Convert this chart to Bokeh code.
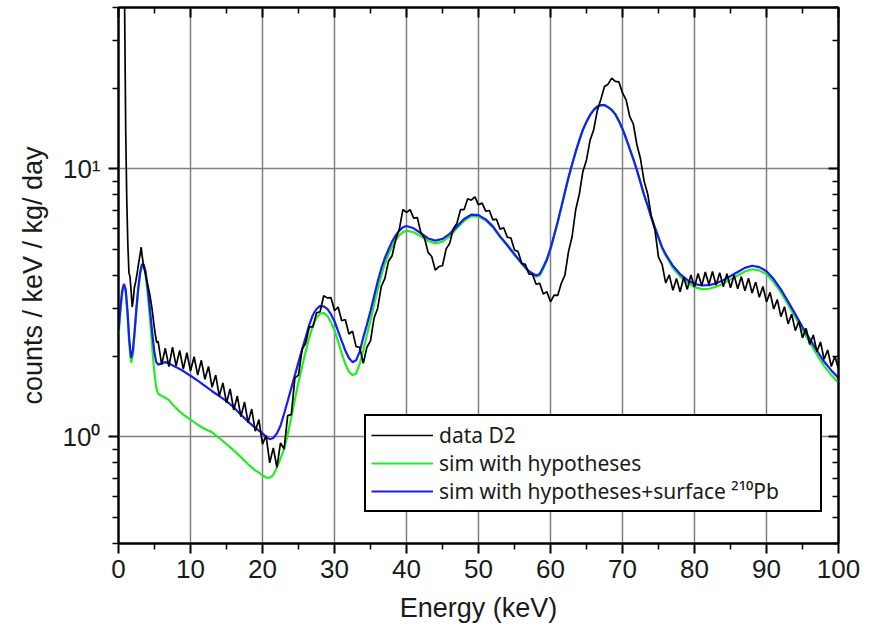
import numpy as np
from bokeh.plotting import figure
from bokeh.models import (FixedTicker, LinearAxis, LogAxis, Legend, LegendItem,
                          CustomJSTickFormatter)
from bokeh.embed import file_html
from bokeh.resources import INLINE

FONT = "Liberation Sans"

# ---------------- data ----------------
# measured spectrum "data D2": low-energy part (irregular energies)
data_energy_low = [0.65, 0.85, 1.0, 1.15, 1.3, 1.45, 1.6, 1.75, 1.9, 2.05, 2.2, 2.4,
                   2.6, 2.8, 3.0, 3.15, 3.3, 3.5, 3.7, 3.9, 4.1, 4.3, 4.5, 4.7,
                   4.9, 5.1, 5.3]
data_counts_low = [120, 40, 14, 7.6, 5.2, 4.1, 3.95, 3.5, 3.05, 3.25, 3.6, 3.8,
                   4.1, 4.45, 4.8, 5.1, 4.7, 4.3, 4.1, 3.85, 3.65, 3.45, 3.2, 2.95,
                   2.65, 2.42, 2.25]
# measured spectrum, 5.5 .. 100 keV every 0.5 keV
data_energy_high = np.arange(5.5, 100.001, 0.5)
data_counts_high = [
    2.27, 1.86, 2.14, 1.83, 2.16, 1.84, 2.10, 1.79, 2.06, 1.76,
    1.99, 1.70, 1.93, 1.64, 1.83, 1.53, 1.70, 1.42, 1.59, 1.34,
    1.51, 1.26, 1.42, 1.19, 1.35, 1.13, 1.27, 1.05, 1.16, 0.94,
    1.01, 0.80, 0.91, 0.77, 0.95, 0.90, 1.20, 1.21, 1.66, 1.70,
    2.12, 2.24, 2.58, 2.57, 2.90, 2.93, 3.36, 3.30, 3.31, 2.96,
    3.05, 2.71, 2.74, 2.42, 2.48, 2.17, 2.16, 1.88, 2.16, 2.28,
    2.78, 3.02, 3.64, 3.90, 4.52, 4.74, 5.44, 5.95, 7.05, 6.88,
    7.04, 6.55, 6.58, 5.77, 5.52, 4.88, 4.71, 4.19, 4.32, 4.35,
    5.02, 5.27, 5.98, 6.26, 7.04, 7.05, 7.74, 7.64, 7.86, 7.34,
    7.45, 6.95, 6.99, 6.45, 6.49, 5.96, 6.03, 5.56, 5.52, 4.98,
    4.91, 4.44, 4.40, 4.05, 4.04, 3.71, 3.74, 3.41, 3.48, 3.19,
    3.38, 3.37, 3.74, 4.01, 4.91, 5.58, 7.04, 8.04, 9.78, 10.8,
    12.8, 14.0, 16.5, 18.2, 20.3, 20.7, 21.8, 21.2, 21.1, 19.2,
    18.1, 15.7, 14.7, 12.3, 10.9, 9.0, 8.06, 6.65, 5.93, 4.68,
    4.40, 3.75, 4.02, 3.52, 3.90, 3.48, 3.93, 3.55, 4.02, 3.62,
    4.07, 3.66, 4.12, 3.70, 4.14, 3.68, 4.10, 3.63, 4.06, 3.60,
    4.01, 3.57, 3.96, 3.51, 3.91, 3.44, 3.78, 3.32, 3.64, 3.19,
    3.46, 3.00, 3.25, 2.81, 3.06, 2.64, 2.87, 2.49, 2.70, 2.34,
    2.54, 2.21, 2.40, 2.08, 2.26, 1.95, 2.11, 1.83, 2.00, 1.79,
]

# simulations
sim_energy = [0, 0.25, 0.5, 0.75, 1.0, 1.25, 1.5, 1.75, 2.0, 2.25, 2.5, 2.75, 3.0,
              3.25, 3.5, 3.75, 4.0, 4.25, 4.5, 4.75, 5.0, 5.25, 5.5,
              6.0, 6.5, 7.0,
              8, 9, 10, 11, 12, 13, 14, 15, 16, 17, 18, 19, 20,
              20.5, 21, 21.5, 22, 22.5, 23, 23.5, 24, 24.5, 25,
              25.5, 26, 26.5, 27, 27.5, 28, 28.5, 29, 29.5, 30,
              30.5, 31, 31.5, 32, 32.5, 33, 33.5, 34, 34.5, 35,
              35.5, 36, 36.5, 37, 37.5, 38, 38.5, 39, 39.5, 40,
              41, 42, 43, 44, 45, 46, 47, 48, 49, 50, 51, 52, 53, 54, 55, 56, 57, 58,
              58.5, 59, 59.5, 60,
              60.5, 61, 61.5, 62, 62.5, 63, 63.5, 64, 64.5, 65,
              65.5, 66, 66.5, 67, 67.5, 68, 68.5, 69, 69.5, 70,
              70.5, 71, 71.5, 72, 72.5, 73, 73.5, 74, 74.5, 75, 75.5,
              76, 77, 78, 79, 80, 81, 82, 83, 84, 85, 86, 87, 88, 89, 90,
              91, 92, 93, 94, 95, 96, 97, 98, 99, 100]

sim_hypotheses = [2.35, 2.9, 3.4, 3.65, 3.48, 2.85, 2.2, 1.89, 2.02, 2.45, 3.0, 3.55, 4.05,
                  4.35, 4.35, 4.05, 3.55, 3.0, 2.5, 2.05, 1.72, 1.52, 1.45,
                  1.42, 1.4, 1.37,
                  1.28, 1.21, 1.16, 1.11, 1.07, 1.04, 0.99, 0.94, 0.89, 0.84, 0.79, 0.75, 0.72,
                  0.705, 0.705, 0.72, 0.77, 0.83, 0.9, 1.02, 1.18, 1.38, 1.6,
                  1.83, 2.08, 2.35, 2.6, 2.78, 2.88, 2.9, 2.83, 2.68, 2.5,
                  2.27, 2.05, 1.87, 1.75, 1.7, 1.72, 1.87, 2.1, 2.4, 2.72,
                  3.12, 3.55, 4.0, 4.42, 4.8, 5.12, 5.42, 5.65, 5.8, 5.88,
                  5.8, 5.6, 5.38, 5.27, 5.35, 5.6, 6.0, 6.4, 6.66, 6.65, 6.42, 6.05, 5.56,
                  5.16, 4.77, 4.42, 4.12, 3.96,
                  4.0, 4.25, 4.55, 5.0,
                  5.6, 6.3, 7.15, 8.15, 9.25, 10.35, 11.55, 12.75, 13.95, 14.95,
                  15.85, 16.55, 17.05, 17.25, 17.25, 16.95, 16.55, 15.95, 15.05, 14.05,
                  12.95, 11.85, 10.85, 9.85, 8.87, 7.97, 7.25, 6.55, 6.0, 5.5, 5.05,
                  4.74, 4.27, 3.97, 3.76, 3.62, 3.56, 3.57, 3.63, 3.73, 3.87, 4.0, 4.14,
                  4.22, 4.18, 4.04, 3.78, 3.46, 3.12, 2.8, 2.5, 2.25, 2.03, 1.84, 1.7, 1.59]

sim_hypotheses_pb210 = [2.5, 3.0, 3.5, 3.72, 3.55, 2.95, 2.3, 1.97, 2.1, 2.5, 3.05, 3.6, 4.1,
                        4.4, 4.4, 4.15, 3.7, 3.2, 2.75, 2.35, 2.05, 1.9, 1.86,
                        1.88, 1.9, 1.88,
                        1.82, 1.76, 1.69, 1.62, 1.55, 1.48, 1.42, 1.36, 1.29, 1.21, 1.14, 1.08, 1.03,
                        1.0, 0.98, 0.99, 1.03, 1.1, 1.22, 1.36, 1.52, 1.7, 1.9,
                        2.12, 2.35, 2.62, 2.85, 3.0, 3.08, 3.07, 3.0, 2.87, 2.7,
                        2.48, 2.28, 2.1, 1.97, 1.9, 1.93, 2.08, 2.35, 2.62, 2.95,
                        3.35, 3.8, 4.25, 4.65, 5.0, 5.35, 5.65, 5.88, 6.05, 6.12,
                        6.0, 5.75, 5.5, 5.4, 5.48, 5.72, 6.1, 6.5, 6.75, 6.72, 6.48, 6.1, 5.6,
                        5.2, 4.8, 4.45, 4.15, 4.0,
                        4.05, 4.3, 4.6, 5.05,
                        5.65, 6.35, 7.2, 8.2, 9.3, 10.4, 11.6, 12.8, 14.0, 15.0,
                        15.9, 16.6, 17.1, 17.3, 17.3, 17.0, 16.6, 16.0, 15.1, 14.1,
                        13.0, 11.9, 10.9, 9.9, 8.9, 8.0, 7.3, 6.6, 6.05, 5.55, 5.1,
                        4.8, 4.35, 4.05, 3.85, 3.72, 3.67, 3.68, 3.74, 3.84, 3.98, 4.12, 4.27,
                        4.35, 4.3, 4.15, 3.88, 3.55, 3.2, 2.87, 2.57, 2.32, 2.1, 1.91, 1.77, 1.66]

x_major = [0, 10, 20, 30, 40, 50, 60, 70, 80, 90, 100]
x_minor = [5, 15, 25, 35, 45, 55, 65, 75, 85, 95]
y_major = [1, 10]
y_minor = [0.4, 0.5, 0.6, 0.7, 0.8, 0.9, 2, 3, 4, 5, 6, 7, 8, 9, 20, 30, 40]

assert len(data_counts_high) == len(data_energy_high)
assert len(sim_energy) == len(sim_hypotheses) == len(sim_hypotheses_pb210)

data_energy = list(data_energy_low) + list(data_energy_high)
data_counts = list(data_counts_low) + list(data_counts_high)

# ---------------- figure ----------------
p = figure(width=876, height=636, x_range=(0, 100), y_range=(0.4, 40),
           y_axis_type="log", output_backend="svg", toolbar_location=None,
           min_border_left=118, min_border_right=38, min_border_top=7,
           min_border_bottom=93, background_fill_color="white",
           border_fill_color="white")
p.outline_line_color = "black"
p.outline_line_width = 2

xt = FixedTicker(ticks=x_major, minor_ticks=x_minor)
yt = FixedTicker(ticks=y_major, minor_ticks=y_minor)

for g, t in ((p.xgrid, xt), (p.ygrid, yt)):
    g.ticker = t
    g.grid_line_color = "#808080"
    g.grid_line_width = 1.5

def style_axis(ax, labels=True, inward=False):
    ax.axis_line_color = "black"
    ax.axis_line_width = 2
    ax.major_tick_line_color = "black"
    ax.minor_tick_line_color = "black"
    ax.major_tick_line_width = 2
    ax.minor_tick_line_width = 1.5
    if inward:
        ax.major_tick_in, ax.major_tick_out = 10, 0
        ax.minor_tick_in, ax.minor_tick_out = 6, 0
    else:
        ax.major_tick_in, ax.major_tick_out = 0, 10
        ax.minor_tick_in, ax.minor_tick_out = 0, 6
    if labels:
        ax.major_label_text_font = FONT
        ax.major_label_text_font_size = "26px"
        ax.major_label_text_color = "#1a1a1a"
        ax.axis_label_text_font = FONT
        ax.axis_label_text_font_size = "27px"
        ax.axis_label_text_font_style = "normal"
        ax.axis_label_text_color = "#1a1a1a"
    else:
        ax.formatter = CustomJSTickFormatter(code="return '';")
        ax.major_label_standoff = 0

xa = p.xaxis[0]
xa.ticker = xt
style_axis(xa)
xa.axis_label = "Energy (keV)"
xa.major_label_standoff = 6
xa.axis_label_standoff = 12

ya = p.yaxis[0]
ya.ticker = yt
style_axis(ya)
ya.axis_label = "counts / keV / kg/ day"
ya.formatter = CustomJSTickFormatter(code="return tick > 5 ? '10\u00b9' : '10\u2070';")
ya.major_label_standoff = 8
ya.axis_label_standoff = 12

top = LinearAxis(ticker=xt)
style_axis(top, labels=False, inward=True)
p.add_layout(top, "above")
right = LogAxis(ticker=yt)
style_axis(right, labels=False, inward=True)
p.add_layout(right, "right")

r_green = p.line(sim_energy, sim_hypotheses, line_color="#22ee22", line_width=2.2)
r_blue = p.line(sim_energy, sim_hypotheses_pb210, line_color="#1a1aff", line_width=2.2)
r_data = p.line(data_energy, data_counts, line_color="black", line_width=1.7)

legend = Legend(items=[
    LegendItem(label="data D2", renderers=[r_data]),
    LegendItem(label="sim with hypotheses", renderers=[r_green]),
    LegendItem(label="sim with hypotheses+surface \u00b2\u00b9\u2070Pb", renderers=[r_blue]),
], location=(246, 31), margin=0, padding=5, spacing=0, glyph_width=62,
    glyph_height=20, label_height=20, label_standoff=6, label_width=376,
    label_text_font="Noto Sans", label_text_font_size="21px", label_text_color="#1a1a1a",
    border_line_color="black", border_line_alpha=1.0, border_line_width=2,
    background_fill_color="white", background_fill_alpha=1.0)
p.add_layout(legend)

open("out.html", "w").write(file_html(p, INLINE))
